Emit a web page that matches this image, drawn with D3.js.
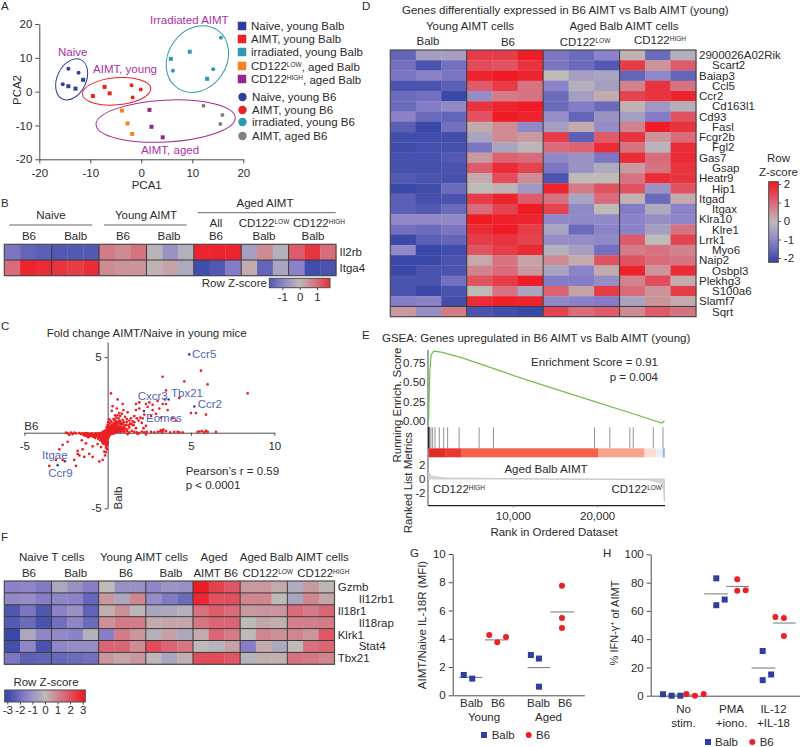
<!DOCTYPE html>
<html><head><meta charset="utf-8">
<script src="https://cdnjs.cloudflare.com/ajax/libs/d3/7.8.5/d3.min.js"></script>
<style>
html,body{margin:0;padding:0;background:#fff}
svg{display:block}
text{font-family:"Liberation Sans",Arial,sans-serif;fill:#2b2a2b;font-size:11.5px}
</style></head><body><svg id="c" width="800" height="747"></svg>
<script>
// ---------- Panel A data
const pcaNaiveBalb=[[-14.3,1.6],[-12.9,.9],[-11.4,3.5]];
const pcaNaiveB6=[[-14.3,6.8],[-12.3,5.6],[-15.4,2.2]];
const pcaAimtBalb=[[-9.5,-1.3],[-7.2,1.4],[-6.2,-.5]];
const pcaAimtB6=[[-1.9,1.9],[-.1,.6],[-1.7,-1.7]];
const pcaIrrBalb=[[9.5,11.8],[5.8,9.7],[12.9,3.8]];
const pcaIrrB6=[[15.6,15.9],[6.2,6.2],[14.1,6.6]];
const pcaLowBalb=[[-3.8,-5.6],[-2.7,-9.4],[-1.8,-12.5]];
const pcaHighBalb=[[1.6,-5.4],[2,-10.4],[4.2,-13.5]];
const pcaAgedB6=[[12.2,-4.2],[15.9,-6.9],[15.5,-9.6]];
const pcaEllipses=[
 {c:[-13.66,3.65],r:[2.84,6.42],a:25,col:"#2e3d9e"},
 {c:[-4.84,.1],r:[6.72,4],a:-5,col:"#ed2024"},
 {c:[11,9.65],r:[5.7,10.4],a:35,col:"#3098b0"},
 {c:[4.77,-8.7],r:[13.66,6.2],a:-3,col:"#a32c9f"}];
const legendSquares=[["Naive, young Balb","#2e3d9e"],["AIMT, young Balb","#ed2024"],["irradiated, young Balb","#3098b0"],["CD122^LOW, aged Balb","#f58220"],["CD122^HIGH, aged Balb","#93278f"]];
const legendCircles=[["Naive, young B6","#2e3d9e"],["AIMT, young B6","#ed2024"],["irradiated, young B6","#3098b0"],["AIMT, aged B6","#808080"]];
// ---------- Panel B data (z on +-2)
const bGenes=["Il2rb","Itga4"];
const bValues=[
 [-1.2,-1.5,-1.6,-1.7,-1.7,-1.7,.8,.6,.9,-.1,-.7,-.2,1.9,1.9,1.9,-.5,.6,-.2,1.2,1.7,1.0],
 [1.0,1.9,1.8,1.7,1.6,1.8,.6,.5,.5,.1,.3,-.3,-1.9,-1.7,-1.1,.2,-1.5,-.4,-1,-1.9,-1.8]];
// ---------- Panel C data
const fcOther=[[3.3,3.7],[5.6,4.1],[4.6,3.4],[6,3.2],[8.4,2.6],[3.5,2.8],[.2,2.6],[4.3,2.3],[5,1.3],[5.3,1.3],[5.9,1.2],[.6,2.2],[.9,1.9],[1.7,1.9],[1.9,2],[2.5,2],[2.3,1.9],[2.7,1.85],[3.3,1.9],[3.5,1.9],[3.1,1.6],[3.6,1.5],[3.9,.95],[4.1,.8],[1.9,1.6],[2.7,1.5],[2.4,1.7],[1.7,1.5],[3,2.1],[2.2,1.2],[2.6,1.1],[2.9,1.25],[3.2,1],[1.6,1.1],[1.4,.95],[1.2,1.35],[.95,1.5],[.55,1.6],[.3,1.75],[.25,1.45],[.7,1.3],[1.05,1.05],[1.85,.8],[1.5,.75],[1.75,.95],[1.35,.6],[.9,.85],[1.15,.7],[.65,.95],[.45,1.15],[.35,.9],[.8,.55],[1,.4],[1.3,.35],[1.55,.5],[.55,.7],[2.05,.65],[2.3,.45],
 [.6,.1],[.75,.05],[.9,.15],[1,.05],[1.15,.1],[1.3,.02],[1.45,.12],[1.6,.05],[1.75,.02],[1.9,-.02],[2.05,.08],[2.2,.03],[2.35,.05],[2.6,.05],[2.8,.02],[3,.05],[3.2,.15],[3.3,.02],[3.35,.2],[3.5,.1],[3.75,.02],[4,.05],[4.2,.05],[4.3,.02],[4.5,.02],[5.4,.05],[5.5,.08],[5.65,.1],[5.8,.02],[5.9,.12],[6,.05],[6.5,.05],[1.2,-.1],[1.8,-.08],[2.3,-.12],[3.15,.08],[3.28,.1],
 [-3.5,-2.2],[-3.1,-1.8],[-2.7,-1.8],[-2.9,-1.1],[-2.7,-.8],[-2.4,-.6],[-1.9,-2.2],[-2,-1.8],[-1.8,-1.2],[-1.8,-1.4],[-1.7,-1.5],[-1.4,-1.6],[-1.5,-1.1],[-1.1,-1.4],[-.9,-.9],[-.9,-1.6],[-.5,-1.9],[-.3,-1.8],[-.1,-1],[-.15,-1.5],[-.4,-.95],[-.2,-1.25],[-.6,-.75],[-1.3,-.7],[-1.55,-.5],
 [-2.5,0],[-2.4,-.05],[-2.3,-.15],[-2.2,0],[-2.1,-.1],[-2,0],[-1.9,-.05],[-1.5,-.05],[-1.45,-.15],[-1.4,-.1],[-1.3,-.2],[-1.25,-.05],[-1.2,-.15],[-1.15,-.3],[-1.1,-.1],[-1,-.15],[-.95,-.05],[-.9,-.25],[-.85,-.1],[-.8,-.2],[-.75,-.35],[-.7,-.1],[-.65,-.25],[-.6,-.05],[-.58,-.4],[-.55,-.18],[-.5,-.3],[-.48,-.1],[-.45,-.5],[-.42,-.22],[-.4,-.02],[-.38,-.35],[-.35,-.15],[-.33,-.6],[-.3,-.28],[-.28,-.08],[-.26,-.45],[-.24,-.18],[-.22,-.7],[-.2,-.32],[-.18,-.02],[-.16,-.52],[-.14,-.14],[-.12,-.8],[-.1,-.38],[-.08,-.2],[-.06,-.6],[-.04,-.08],[-.02,-.28],[0,-.45],[0,-.12],[.02,-.65],[.04,-.02],[.05,-.3],[-.28,.08],[-.2,.05],[-.15,.14],[-.1,.1],[-.06,.22],[-.02,.06],[.02,.16],[.05,.28],[.08,.04],[.1,.18],[.12,.36],[.14,.08],[.16,-.06],[.18,.24],[.2,.44],[.22,.12],[.24,.02],[.26,.3],[.28,.54],[.3,.18],[.32,.06],[.34,.38],[.36,.66],[.38,.22],[.4,.1],[.42,.48],[.44,.3],[.46,.02],[.48,.78],[.5,.16],[.52,.42],[.54,.24],[.56,.58],[.58,.06],[.62,.32],[.66,.48],[.7,.2],[.74,.66],[.78,.28],[.82,.4],[.86,.12],[.92,.3],[.98,.22],[1.08,.25],[1.18,.2],[-.05,.38],[0,.5],[.03,.7],[.08,.9],[.12,.6],[.16,.8],[.22,.72],[-.02,.3],[.06,.42],[.1,-.15],[.18,-.1],[.25,-.08],[.32,-.05],[.4,-.03]];
const fcDense=[[-.02,-.02],[.03,.03],[.07,.1],[.11,.13],[.15,.2],[.19,.1],[.21,.27],[.27,.15],[.31,.12],[.33,.24],[.37,.34],[.41,.2],[.43,.38],[.47,.13],[.49,.25],[.51,.35],[.55,.1],[.57,.2],[.6,.27],[.63,.14],[.67,.08],[.69,.36],[.72,.13],[.76,.22],[.8,.18],[.84,.08],[.88,.24],[.94,.13],[.08,.2],[.13,.26],[.17,.33],[.23,.4],[.29,.31],[.35,.46],[.4,.56],[.45,.62],[.5,.52],[.53,.66],[.6,.6],[.65,.72],[.72,.8],[.78,.7],[.85,.62],[.95,.55],[1.1,.5],[1.25,.5],[.4,.85],[.5,1],[.6,1.15],[.75,1.1],[.85,1.25],[1.3,.8],[1.45,.55],[1.6,.7],[1.95,1],[2.1,.95],[2.15,.3],[1.7,.3],[.98,.72],[1.15,.9],
 [-.06,-.05],[-.1,-.02],[-.13,-.08],[-.16,-.04],[-.19,-.1],[-.22,-.06],[-.25,-.12],[-.27,-.03],[-.31,-.1],[-.34,-.05],[-.37,-.2],[-.39,-.09],[-.43,-.13],[-.46,-.03],[-.49,-.2],[-.52,-.08],[-.54,-.28],[-.57,-.13],[-.61,-.18],[-.63,-.09],[-.67,-.15],[-.71,-.24],[-.73,-.05],[-.77,-.13],[-.82,-.28],[-.87,-.17],[-.92,-.08],[-.97,-.2],[-1.03,-.07],[-1.07,-.22],[-1.13,-.12],[-1.18,-.05],[-1.23,-.24],[-1.28,-.1],[-1.35,-.03],[-1.38,-.17],[-1.6,-.08],[-1.7,-.03],[-.03,-.16],[-.05,-.24],[-.07,-.33],[-.09,-.13],[-.11,-.23],[-.13,-.31],[-.15,-.2],[-.17,-.42],[-.19,-.26],[-.21,-.15],[-.23,-.36],[-.25,-.25],[-.27,-.55],[-.29,-.17],[-.31,-.38],[-.33,-.12],[-.36,-.27],[-.4,-.42],[-.44,-.32],[-.47,-.22],[-.01,-.36],[-.03,-.52],[-.05,-.7],[-.07,-.9],[-.04,-.42],[.01,-.2],[.03,-.1],[.06,-.06],[.09,-.22],[.13,-.04],[.2,-.03],[.27,-.02],[.35,.02],[.42,.06],[.48,.04],[.53,.08],[-.23,-.55],[-.15,-.72],[-.09,-.5],[-.28,-.72],[-.35,-.5],[-.12,-.62],[-.02,-.8],[-.1,-1.3],[-.03,-1.1]];
const fcLabelled=[["Ccr5",4.9,5.18],["Ccr2",5.2,1.73],["Cxcr3",3.44,2.2],["Tbx21",3.66,2.2],["Eomes",2.18,1.44],["Itgae",-2.56,-1.89],["Ccr9",-3,-2.15]];
// ---------- Panel D data (z on +-2)
const dGenes=["2900026A02Rik","Scart2","Baiap3","Ccl5","Ccr2","Cd163l1","Cd93","Fasl","Fcgr2b","Fgl2","Gas7","Gsap","Heatr9","Hip1","Itgad","Itgax","Klra10","Klre1","Lrrk1","Myo6","Naip2","Osbpl3","Plekhg3","S100a6","Slamf7","Sqrt"];
const dValues=[
[-1.5,-.5,-.5,1.6,1.6,2,-1.2,-1.4,-1,.1,-1.4,-.2],
[-1.3,-1.8,-1.3,1.4,1.3,1.7,-1.2,-1.4,-1.7,1.6,.5,1.2],
[-1.2,-1,-1.2,1.9,2,1.9,0,-.5,-.4,-1.5,-.9,-1.5],
[-1.8,-1.8,-1.6,1.2,1.6,.9,-1,-.2,-.5,.7,1.7,.9],
[-1.4,-1.3,-2,-.8,.8,.9,-1.4,-.5,.2,1.5,1.7,1.9],
[-1.4,-1.1,-.9,1.7,1.9,2,-1.4,-1.1,-1.4,.1,-.6,-.2],
[-1,-1.4,-1.5,1.3,2,1.9,-.8,-1.5,-.7,-.5,-1.1,1.3],
[-1.6,-2,-1.3,.2,.6,-.9,-.5,.2,-.8,.7,2,1.7],
[-1.9,-1.9,-1.9,-.4,.6,.4,1.6,-1.6,1.2,1.7,.5,1],
[-1.95,-1.85,-1.85,-1.2,-.4,-.05,1,1.1,1.8,.9,-.1,1.8],
[-1.85,-1.85,-1.7,.4,1.1,1,-.9,-.7,-1.2,1.8,1,1.8],
[-1.85,-1.85,-1.8,1.2,1.8,1.5,-1.2,-.7,-.3,.4,.9,1.7],
[-1.7,-1.8,-1.85,.2,1.4,.6,-1.8,0,0,.9,1.8,1.7],
[-2,-1.9,-1.4,0,.1,-.6,1.9,.8,1.3,1.3,-.7,1.3],
[-1.6,-1.85,-1.8,1.6,1.9,1.2,.9,-.4,1,.1,-1.4,.2],
[-1.6,-1.7,-1.4,1,1.5,2,1.5,-.9,0,-1.1,-.3,-1],
[-.9,-.9,-.9,2,1.95,1.9,-.9,-.9,-.9,-1,-.8,-.95],
[-1.3,-1.4,-1.2,1.8,2,1.6,-.4,-1.4,-1,-1,-.5,.9],
[-2,-1.6,-1.5,1.6,1.7,1.5,-.8,-.8,-.9,1.2,0,1.5],
[-.9,-2,-1.9,1.3,1.6,1.8,-.2,-.5,-1.3,.8,.9,.7],
[-2,-2,-1.8,.2,.9,.3,.6,.2,1.3,1.3,1,.9],
[-2,-1.8,-1.8,.7,1,.4,-.4,-1,.2,1.9,.5,1.8],
[-1.8,-1.8,-1.3,1.3,1.6,2,-1.1,-1.1,-.8,.7,1.4,.2],
[-1.8,-2,-1.8,0,.9,-.4,1.1,.3,1.6,1,.5,1.6],
[-1.1,-1,-1.9,1.8,1.95,1.9,-.9,-1,-1.1,-.4,.5,.2],
[.4,-.8,.8,-1.8,-1.9,-2,1.5,1,1.2,.6,1.2,.9]];
// ---------- Panel E data
const esCurve=[[0,0],[60,.3],[150,.65],[300,.86],[600,.91],[1500,.895],[4000,.82],[8000,.67],[12000,.52],[16000,.38],[20000,.24],[24000,.1],[27700,-.03],[28000,0]];
const esTicks=[0,.25,.5,.75];
const metricTicks=[-2,0,2];
const rugRanks=[0,20,40,60,83,280,480,760,1270,1790,2260,3620,6000,7700,19690,21510,23890,24290,26670,27820];
const bandStops=[[0,2000,"#df2e27"],[2000,3900,"#e8392f"],[3900,20100,"#f4604a"],[20100,25600,"#f8a48d"],[25600,27000,"#fbdcd0"],[27000,27800,"#e9eff8"],[27800,28000,"#8fb4dd"]];
const rankMetric=[[0,1],[300,.4],[2000,.15],[14000,0],[26000,-.1],[27500,-.5],[27900,-1.5],[27990,-3.2]];
// ---------- Panel F data (z on +-3)
const fGenes=["Gzmb","Il12rb1","Il18r1","Il18rap","Klrk1","Stat4","Tbx21"];
const fValues=[
[-1.5,-1.4,-1.7,-.5,-1.1,-1.6,0,-1.1,-1.1,-1.4,-1,-1.1,3,2.3,1.9,.6,.6,.3,-.4,.6,.1],
[-1.3,-1.2,-1.6,-1.4,-1.5,-2.2,.6,-.5,1,-1.2,-1.7,-2.1,2.8,2,2,1,1,0,-.6,1,.4],
[-2.6,-1.8,-2.6,-1.5,-1.1,-2.3,.2,.8,-.1,-.6,-.5,-.3,1.4,1.8,1.5,.6,.7,.7,1.5,1.2,1.6],
[-2.5,-2.1,-2.7,-2,-1.4,-2.1,.8,1.2,1.2,.3,.4,.4,1.3,1.6,1.6,0,.4,.2,1.1,1.1,1.2],
[-3,-.5,-1.4,-1.3,-1.5,-.3,-1.6,1.2,.7,-.3,.5,-.5,.3,1.6,1.2,0,1,.8,1,.7,1.9],
[-2.8,-1.4,-2.7,-1.4,-1.2,-1.2,1.6,1.6,.9,2.1,1.6,1.3,0,-.2,.5,-1.6,.3,-.5,0,1.4,1.6],
[-1.8,-2.4,-2.3,-2.2,-2.1,-2,.7,.4,.7,-.1,-.6,.2,2.1,2.1,1.9,-.2,.2,.2,1.4,1.3,1]];
// ---------- Panel G data (pos = horizontal slot, val = fold change)
const gBalbPos=[1.3,2.3,9.2,10.15,10.15];const gBalbVal=[1.44,1.18,2.85,2.6,.61];
const gB6Pos=[4.3,5.25,6.27,12.86,12.86,12.86];const gB6Val=[4.27,3.75,4.13,7.76,5.47,4.76];
const gMeans=[[.75,3.5,1.27],[3.8,6.55,3.92],[8.8,11.5,1.96],[11.5,14.3,5.9]];
// ---------- Panel H data
const hBalbPos=[1.45,2.47,3.5,7.73,7.73,8.72,13.2,13.2,14.2];const hBalbVal=[1,0,0,83,64,68,31.6,11,15];
const hB6Pos=[4.2,5.22,6.24,10.2,10.2,11.2,14.7,15.7,15.7];const hB6Val=[1.2,0,1.2,82.3,74.3,74.5,55.7,55,42.2];
const hMeans=[[2,5.5,.5],[6.3,9.1,72],[8.9,11.6,77.3],[11.9,14.7,19.6],[14.4,17.1,51.4]];

const NAVY="#2e3d9e",RED="#ed2024",INK="#2b2a2b",AX="#4a4a4a",MAG="#ad2fa6",LBLUE="#5363b4";
const svg=d3.select("#c");
const z2=d3.scaleLinear().domain([-2,-1,0,1,2]).range(["#3a48a8","#8c82c9","#bdbab8","#d96b7b","#ef1c25"]).clamp(true);
const z3=v=>z2(v/1.5);

function txt(g,s,x,y,o={}){
  const t=g.append("text").attr("x",x).attr("y",y).attr("dy",".35em")
    .attr("text-anchor",o.a||"start").style("font-size",(o.fs||11.5)+"px").style("fill",o.col||INK);
  if(o.rot)t.attr("transform",`rotate(${o.rot} ${x} ${y})`);
  if(s.includes("^")){
    const [m,rest]=s.split("^");const sup=rest.match(/^[A-Z]+/)[0];const tail=rest.slice(sup.length);
    t.append("tspan").text(m);
    t.append("tspan").attr("dy","-.5em").style("font-size","6.5px").text(sup);
    if(tail)t.append("tspan").attr("dy",".35em").text(tail);
  } else t.text(s);
  return t;
}
function styleAxis(a,o={}){
  a.selectAll("path.domain").attr("stroke",o.col||AX).attr("stroke-width",1);
  a.selectAll(".tick line").attr("stroke",o.col||AX).attr("stroke-width",1);
  a.selectAll("text").style("font-size",(o.fs||11.5)+"px").style("font-family",'"Liberation Sans",Arial,sans-serif').style("fill",INK);
}
function sq(g,x,y,s,c){g.append("rect").attr("x",x-s/2).attr("y",y-s/2).attr("width",s).attr("height",s).attr("fill",c);}
function dot(g,x,y,r,c){g.append("circle").attr("cx",x).attr("cy",y).attr("r",r).attr("fill",c);}
function heat(g,vals,rect,color,groups,rowLines){
  const cols=d3.range(vals[0].length),rows=d3.range(vals.length);
  const X=d3.scaleBand().domain(cols).range([rect[0],rect[1]]);
  const Y=d3.scaleBand().domain(rows).range([rect[2],rect[3]]);
  vals.forEach((r,i)=>r.forEach((v,j)=>g.append("rect").attr("x",X(j)).attr("y",Y(i))
    .attr("width",X.bandwidth()+.3).attr("height",Y.bandwidth()+.3).attr("fill",color(v))));
  groups.forEach(c=>g.append("line").attr("x1",X(c)).attr("x2",X(c)).attr("y1",rect[2]).attr("y2",rect[3]).attr("stroke","#3a3a3a").attr("stroke-width",1));
  rowLines.forEach(c=>g.append("line").attr("y1",Y(c)).attr("y2",Y(c)).attr("x1",rect[0]).attr("x2",rect[1]).attr("stroke","#3a3a3a").attr("stroke-width",1));
  g.append("rect").attr("x",rect[0]).attr("y",rect[2]).attr("width",rect[1]-rect[0]).attr("height",rect[3]-rect[2]).attr("fill","none").attr("stroke","#4a4a4a").attr("stroke-width",1.2);
  return Y;
}
function gradBar(id,color,dom,x0,x1,y0,y1,vertical){
  const defs=svg.append("defs");
  const gr=defs.append("linearGradient").attr("id",id);
  if(vertical)gr.attr("x1",0).attr("x2",0).attr("y1",1).attr("y2",0);
  d3.range(0,1.001,.05).forEach(t=>gr.append("stop").attr("offset",t).attr("stop-color",color(dom[0]+(dom[1]-dom[0])*t)));
  svg.append("rect").attr("x",x0).attr("y",y0).attr("width",x1-x0).attr("height",y1-y0).attr("fill",`url(#${id})`).attr("stroke","#4a4a4a").attr("stroke-width",1);
}

// Panel letters
[["A",1,6],["D",362,6],["B",1,203],["C",1,326],["E",362,335],["F",1,537],["G",410,553],["H",603,553]]
 .forEach(l=>txt(svg,l[0],l[1],l[2],{fs:11.5}));

// ===== A
{const g=svg.append("g");
 const x=d3.scaleLinear().domain([-20,20]).range([39.3,243.3]),y=d3.scaleLinear().domain([-20,20]).range([159.3,24]);
 styleAxis(g.append("g").attr("transform","translate(0,159.3)").call(d3.axisBottom(x).tickValues([-20,-10,0,10,20]).tickSize(4).tickSizeOuter(0).tickFormat(String)).call(a=>a.selectAll("text").attr("dy",".9em")));
 styleAxis(g.append("g").attr("transform","translate(39.3,0)").call(d3.axisLeft(y).tickValues([-20,-10,0,10,20]).tickSize(4).tickSizeOuter(0).tickFormat(String)));
 txt(g,"PCA1",146.7,184.5,{a:"middle"});txt(g,"PCA2",17.3,90,{a:"middle",rot:-90});
 pcaEllipses.forEach(e=>{
  const cx=x(e.c[0]),cy=y(e.c[1]);
  g.append("ellipse").attr("cx",cx).attr("cy",cy).attr("rx",x(e.r[0])-x(0)).attr("ry",y(0)-y(e.r[1]))
   .attr("transform",`rotate(${e.a} ${cx} ${cy})`).attr("fill","none").attr("stroke",e.col).attr("stroke-width",1);
 });
 [[pcaNaiveBalb,NAVY,0],[pcaNaiveB6,NAVY,1],[pcaAimtBalb,RED,0],[pcaAimtB6,RED,1],[pcaIrrBalb,"#3098b0",0],[pcaIrrB6,"#3098b0",1],[pcaLowBalb,"#f58220",0],[pcaHighBalb,"#93278f",0],[pcaAgedB6,"#808080",1]]
 .forEach(([pts,c,isC])=>pts.forEach(p=>isC?dot(g,x(p[0]),y(p[1]),2,c):sq(g,x(p[0]),y(p[1]),4,c)));
 txt(g,"Naive",72.7,51.7,{a:"middle",col:MAG});txt(g,"AIMT, young",125,68.7,{a:"middle",col:MAG});
 txt(g,"Irradiated AIMT",189.3,20,{a:"middle",col:MAG});txt(g,"AIMT, aged",170,150,{a:"middle",col:MAG});
 const ys=[26,39,52,66,79];legendSquares.forEach((l,i)=>{sq(g,242,ys[i],8.5,l[1]);txt(g,l[0],251,ys[i],{});});
 const yc=[97,110,122,136];legendCircles.forEach((l,i)=>{dot(g,242.5,yc[i],4.2,l[1]);txt(g,l[0],252,yc[i],{});});
}
// ===== B
{const g=svg.append("g");
 const Y=heat(g,bValues,[4.3,336,244.3,275.7],z2,[3,6,9,12,15,18],[1]);
 bGenes.forEach((n,i)=>txt(g,n,339.5,Y(i)+Y.bandwidth()/2,{}));
 [["Naive",51,215],["Young AIMT",146,215],["Aged AIMT",265,203.3],["B6",29,236],["Balb",75.7,236],["B6",123,236],["Balb",169,236],["All",216,223],["B6",216,236],["Balb",264,236],["CD122^HIGH",319,223],["Balb",313,236],["CD122^LOW",264,223]]
  .forEach(t=>txt(g,t[0],t[1],t[2],{a:"middle"}));
 [[9.3,92.3,225],[104,186.7,225],[197.7,335.7,212.7]].forEach(l=>g.append("line").attr("x1",l[0]).attr("x2",l[1]).attr("y1",l[2]).attr("y2",l[2]).attr("stroke","#666"));
 txt(g,"Row Z-score",267,283,{a:"end"});
 gradBar("gb",z2,[-1.75,1.75],269.3,330,278.3,287.7);
 const s=d3.scaleLinear().domain([-1.75,1.75]).range([269.3,330]);
 styleAxis(g.append("g").attr("transform","translate(0,287.7)").call(d3.axisBottom(s).tickValues([-1,0,1]).tickSize(2.5).tickSizeOuter(0).tickFormat(String)).call(a=>a.select(".domain").remove()));
}
// ===== C
{const g=svg.append("g");
 const x=d3.scaleLinear().domain([-5,10]).range([24.3,274.3]),y=d3.scaleLinear().domain([-5,6]).range([508.3,342]);
 styleAxis(g.append("g").attr("transform",`translate(0,${y(0)})`).call(d3.axisBottom(x).tickValues([-5,5,10]).tickSize(3).tickSizeOuter(0).tickFormat(String)).call(a=>a.selectAll("text").attr("dy",".95em")));
 styleAxis(g.append("g").attr("transform",`translate(${x(0)},0)`).call(d3.axisLeft(y).tickValues([-5,5]).tickSize(3).tickSizeOuter(0).tickFormat(String)));
 fcOther.concat(fcDense).forEach(p=>dot(g,x(p[0]),y(p[1]),1.35,RED));
 fcLabelled.forEach(p=>dot(g,x(p[1]),y(p[2]),1.3,"#2e3d9e"));
 txt(g,"Fold change AIMT/Naive in young mice",146.7,333,{a:"middle"});
 txt(g,"B6",24.3,426,{});txt(g,"Balb",117.7,498,{a:"middle",rot:-90});
 [["Ccr5",192,354],["Tbx21",171,392.7],["Cxcr3",137.7,396],["Ccr2",197.7,404.3],["Eomes",146,418.3],["Itgae",42,455],["Ccr9",48.3,473]]
  .forEach(t=>txt(g,t[0],t[1],t[2],{col:LBLUE}));
 txt(g,"Pearson’s r = 0.59",185.7,471,{});txt(g,"p < 0.0001",185.7,485,{});
}
// ===== D
{const g=svg.append("g");
 const Y=heat(g,dValues,[390.3,696,50,316.7],z2,[3,6,9],[25]);
 dGenes.forEach((n,i)=>txt(g,n,i%2?712:699,Y(i)+Y.bandwidth()/2,{}));
 txt(g,"Genes differentially expressed in B6 AIMT vs Balb AIMT (young)",402,10,{});
 txt(g,"Young AIMT cells",470,25.5,{a:"middle"});txt(g,"Aged Balb AIMT cells",624,25.5,{a:"middle"});
 txt(g,"Balb",428,41,{a:"middle"});txt(g,"B6",508,42,{a:"middle"});
 txt(g,"CD122^LOW",585,42,{a:"middle"});txt(g,"CD122^HIGH",660,40,{a:"middle"});
 txt(g,"Row",778.5,158,{a:"middle"});txt(g,"Z-score",778.5,172,{a:"middle"});
 gradBar("gd",z2,[-2.1,2.1],768.7,778.3,181.7,262.3,true);
 const s=d3.scaleLinear().domain([-2,2]).range([258,184]);
 styleAxis(g.append("g").attr("transform","translate(778.3,0)").call(d3.axisRight(s).tickValues([-2,-1,0,1,2]).tickSize(2.5).tickSizeOuter(0).tickFormat(String)).call(a=>a.select(".domain").remove()));
}
// ===== E
{const g=svg.append("g");
 const x=d3.scaleLinear().domain([0,28000]).range([428.6,664.5]);
 const y=d3.scaleLinear().domain([0,.75]).range([420.7,363.3]);
 const m=d3.scaleLinear().domain([-2,2]).range([493,465]);
 txt(g,"GSEA: Genes upregulated in B6 AIMT vs Balb AIMT (young)",382,338,{});
 g.append("line").attr("x1",428).attr("x2",428).attr("y1",350).attr("y2",505.7).attr("stroke",AX);
 g.append("line").attr("x1",428).attr("x2",665).attr("y1",505.7).attr("y2",505.7).attr("stroke","#222").attr("stroke-width",1.2);
 g.append("path").datum(rankMetric).attr("d",d3.area().x(d=>x(d[0])).y0(m(0)).y1(d=>m(d[1]))).attr("fill","#d4d4d4").attr("stroke","#c4c4c4").attr("stroke-width",.8);
 g.append("path").datum(esCurve).attr("d",d3.line().x(d=>x(d[0])).y(d=>y(d[1]))).attr("fill","none").attr("stroke","#6cc04a").attr("stroke-width",1.2);
 rugRanks.forEach(r=>g.append("line").attr("x1",x(r)).attr("x2",x(r)).attr("y1",427.3).attr("y2",448.3).attr("stroke",r<70?"#111":"#888").attr("stroke-width",.9));
 bandStops.forEach(b=>g.append("rect").attr("x",x(b[0])).attr("width",x(b[1])-x(b[0])+.3).attr("y",448.3).attr("height",9).attr("fill",b[2]));
 const f2=d3.format(".2f");
 esTicks.forEach(v=>txt(g,f2(v),425.5,y(v),{a:"end"}));
 metricTicks.forEach(v=>txt(g,String(v),425.5,m(v),{a:"end"}));
 const ax=g.append("g").attr("transform","translate(0,505.7)").call(d3.axisBottom(x).tickValues([10000,20000]).tickSize(2).tickFormat(d3.format(",")));
 ax.select(".domain").remove();styleAxis(ax,{col:"#999"});ax.selectAll("text").attr("dy",".85em");
 txt(g,"Running Enrich. Score",396.7,405,{a:"middle",rot:-90});
 txt(g,"Ranked List Metrics",407.7,482.7,{a:"middle",rot:-90});
 txt(g,"Rank in Ordered Dataset",554,532,{a:"middle"});
 txt(g,"Enrichment Score = 0.91",658,361.7,{a:"end"});txt(g,"p = 0.004",658,377,{a:"end"});
 txt(g,"Aged Balb AIMT",546,469,{a:"middle"});
 txt(g,"CD122^HIGH",433,489,{});txt(g,"CD122^LOW",662,489,{a:"end"});
}
// ===== F
{const g=svg.append("g");
 const Y=heat(g,fValues,[4.3,334.5,581,664.3],z3,[3,6,9,12,15,18],[1,2,3,4,5,6]);
 fGenes.forEach((n,i)=>txt(g,n,i%2?358.7:337.7,Y(i)+Y.bandwidth()/2,{}));
 [["Naive T cells",51.7,557.3],["Young AIMT cells",144,557.3],["Aged",214,557.3],["Aged Balb AIMT cells",294.3,557.3],["B6",29,573.3],["Balb",75.7,573.3],["B6",126,573.3],["Balb",171,573.3],["AIMT B6",215.7,573.3],["CD122^LOW",267.7,573.3],["CD122^HIGH",323.3,573.3]]
  .forEach(t=>txt(g,t[0],t[1],t[2],{a:"middle"}));
 txt(g,"Row Z-score",46,682.3,{a:"middle"});
 gradBar("gf",z3,[-3.2,3.2],4.7,85.3,690,702);
 const s=d3.scaleLinear().domain([-3,3]).range([7.3,82.7]);
 styleAxis(g.append("g").attr("transform","translate(0,702)").call(d3.axisBottom(s).tickValues([-3,-2,-1,0,1,2,3]).tickSize(2.5).tickSizeOuter(0).tickFormat(String)).call(a=>a.select(".domain").remove()).call(a=>a.selectAll("text").attr("dy",".6em")));
}
// ===== G
{const g=svg.append("g");
 const x=d3.scaleLinear().domain([0,15.5]).range([452.7,584.4]),y=d3.scaleLinear().domain([0,10]).range([695.3,554]);
 styleAxis(g.append("g").attr("transform","translate(0,695.3)").call(d3.axisBottom(x).tickValues([]).tickSize(0).tickSizeOuter(0)));
 styleAxis(g.append("g").attr("transform","translate(452.7,0)").call(d3.axisLeft(y).tickValues([0,2,4,6,8,10]).tickSize(4).tickSizeOuter(0).tickFormat(String)));
 gMeans.forEach(d=>g.append("line").attr("x1",x(d[0])).attr("x2",x(d[1])).attr("y1",y(d[2])).attr("y2",y(d[2])).attr("stroke","#777").attr("stroke-width",1));
 gBalbPos.forEach((p,i)=>sq(g,x(p),y(gBalbVal[i]),6,NAVY));
 gB6Pos.forEach((p,i)=>dot(g,x(p),y(gB6Val[i]),3,RED));
 [["Balb",471.5,703],["B6",498,703],["Balb",538.5,703],["B6",565,703],["Young",484,716.7],["Aged",548.5,716.7]].forEach(t=>txt(g,t[0],t[1],t[2],{a:"middle"}));
 txt(g,"AIMT/Naive IL-18R (MFI)",421.7,625,{a:"middle",rot:-90});
 sq(g,484,735,6,NAVY);txt(g,"Balb",491.7,735,{});dot(g,528.7,735,3,RED);txt(g,"B6",536,735,{});
}
// ===== H
{const g=svg.append("g");
 const x=d3.scaleLinear().domain([0,17.6]).range([650.7,800]),y=d3.scaleLinear().domain([0,100]).range([695.7,554.3]);
 styleAxis(g.append("g").attr("transform","translate(0,695.7)").call(d3.axisBottom(x).tickValues([]).tickSize(0).tickSizeOuter(0)));
 styleAxis(g.append("g").attr("transform","translate(650.7,0)").call(d3.axisLeft(y).tickValues([0,20,40,60,80,100]).tickSize(4).tickSizeOuter(0).tickFormat(String)));
 hMeans.forEach(d=>g.append("line").attr("x1",x(d[0])).attr("x2",x(d[1])).attr("y1",y(d[2])).attr("y2",y(d[2])).attr("stroke","#777").attr("stroke-width",1));
 hBalbPos.forEach((p,i)=>sq(g,x(p),y(hBalbVal[i]),6,NAVY));
 hB6Pos.forEach((p,i)=>dot(g,x(p),y(hB6Val[i]),3,RED));
 [["No",683.5,709],["stim.",683.5,723],["PMA",731.5,709],["+iono.",731.5,723],["IL-12",773.5,709],["+IL-18",773.5,723]].forEach(t=>txt(g,t[0],t[1],t[2],{a:"middle"}));
 const yl=txt(g,"",614,623,{a:"middle",rot:-90,fs:11});
 yl.append("tspan").text("% IFN-γ");yl.append("tspan").attr("dy","-.4em").style("font-size","7px").text("+");yl.append("tspan").attr("dy",".4em").text(" of AIMT");
 sq(g,708,742,6,NAVY);txt(g,"Balb",715,742,{});dot(g,752.3,742,3,RED);txt(g,"B6",759.7,742,{});
}
</script></body></html>
